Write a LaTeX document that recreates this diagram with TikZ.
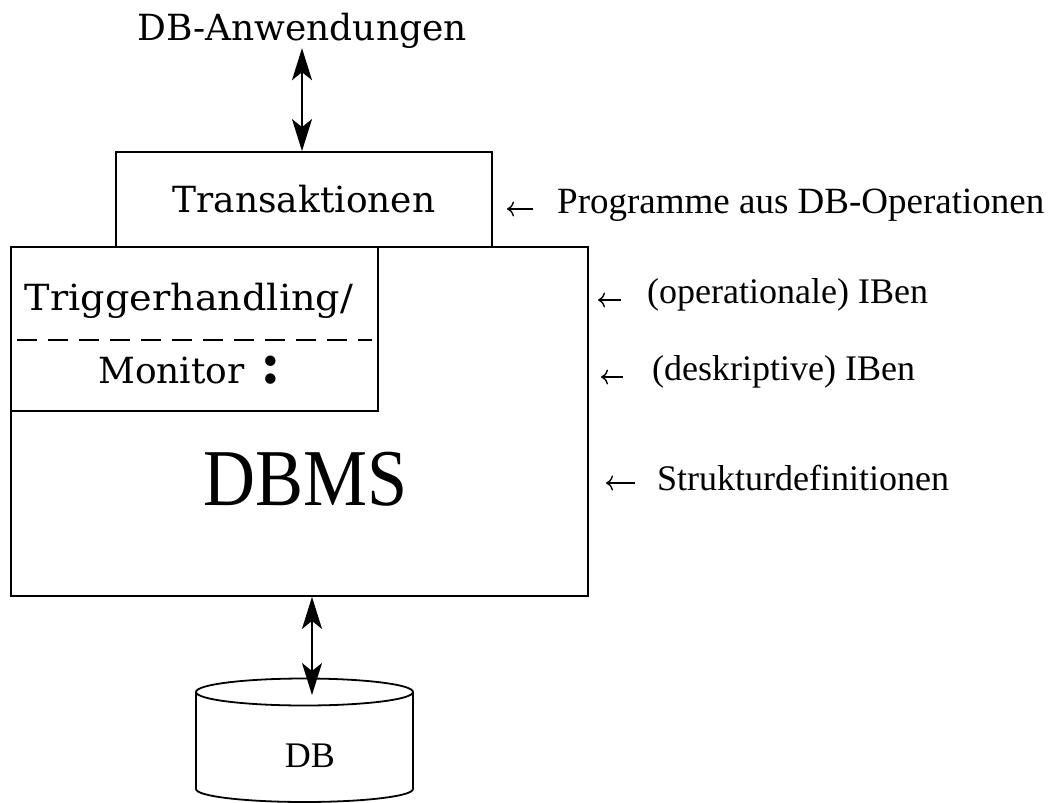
\documentclass[tikz,border=0pt]{standalone}
\usepackage{fontspec}
\usetikzlibrary{arrows.meta}
\newfontfamily\lfont{DejaVu Serif}
\newfontfamily\rfont{Liberation Serif}
\tikzset{
  box/.style={draw, line width=1.8pt, inner sep=0pt},
  ltext/.style={inner sep=0pt, font=\lfont\fontsize{36}{42}\selectfont},
  rtext/.style={inner sep=0pt, anchor=base west, font=\rfont\fontsize{36}{42}\selectfont},
  pointer/.style={line width=1.4pt, -{To[length=7pt,width=15pt,line width=1.4pt]}},
  biarrow/.style={line width=1.8pt, {Stealth[length=32pt,width=20pt,inset=8pt]}-{Stealth[length=32pt,width=20pt,inset=8pt]}},
  sep/.style={line width=1.6pt, dash pattern=on 20pt off 11pt},
  body/.style={line width=1.8pt}
}
\begin{document}
\begin{tikzpicture}[x=1pt,y=-1pt]
\useasboundingbox (0,0) rectangle (1055,803);

% application layer
\node[ltext, anchor=base] (apps) at (302,40) {DB-Anwendungen};

% transaction box
\node[box, minimum width=376pt, minimum height=95pt, ltext] (trans) at (304,199.5) {Transaktionen};

% DBMS box with trigger/monitor part
\node[box, minimum width=577pt, minimum height=349pt] (dbms) at (299.5,421.5) {};
\node[box, minimum width=367pt, minimum height=164pt] (trig) at (194.5,329) {};
\coordinate (sepL) at (17,340);
\coordinate (sepR) at (372,340);
\draw[sep] (sepL) -- (sepR);
\node[ltext, anchor=base] (trigtxt) at (189,310) {\scalebox{1.06}[1]{Triggerhandling/}};
\node[ltext, anchor=base west] (montxt) at (98,383) {Monitor\hspace{16pt}{\fontsize{56}{56}\selectfont\bfseries :}};
\node[inner sep=0pt, anchor=base, font=\rfont\fontsize{72}{80}\selectfont] (dbmstxt) at (306,505) {\scalebox{1}[1.12]{DBMS}};

% database cylinder
\draw[body] (304.5,692) ellipse [x radius=108.5, y radius=13.5];
\draw[body] (196,692) -- (196,789) arc [start angle=180, end angle=0, x radius=108.5, y radius=13] -- (413,692);
\node[inner sep=0pt, anchor=base, font=\rfont\fontsize{36}{40}\selectfont] (db) at (310,767) {DB};
\coordinate (dbtop) at (312,695);

% connectors
\draw[biarrow] (apps.south) -- (apps.south |- trans.north);
\draw[biarrow] (dbms.south -| dbtop) -- (dbtop);

% annotations on the right
\node[rtext, font=\rfont\fontsize{37}{42}\selectfont] (l1) at (557,213) {Programme aus DB-Operationen};
\node[rtext] (l2) at (647,303) {(operationale) IBen};
\node[rtext] (l3) at (652,380) {(deskriptive) IBen};
\node[rtext] (l4) at (657,490) {Strukturdefinitionen};

\coordinate (p1) at (507,209);
\coordinate (p2) at (598,300);
\coordinate (p3) at (601,377);
\coordinate (p4) at (606,483);
\draw[pointer] (p1 -| l1.west) ++(-24pt,0) -- (p1);
\draw[pointer] (p2 -| l2.west) ++(-26pt,0) -- (p2);
\draw[pointer] (p3 -| l3.west) ++(-29pt,0) -- (p3);
\draw[pointer] (p4 -| l4.west) ++(-22pt,0) -- (p4);
\end{tikzpicture}
\end{document}
